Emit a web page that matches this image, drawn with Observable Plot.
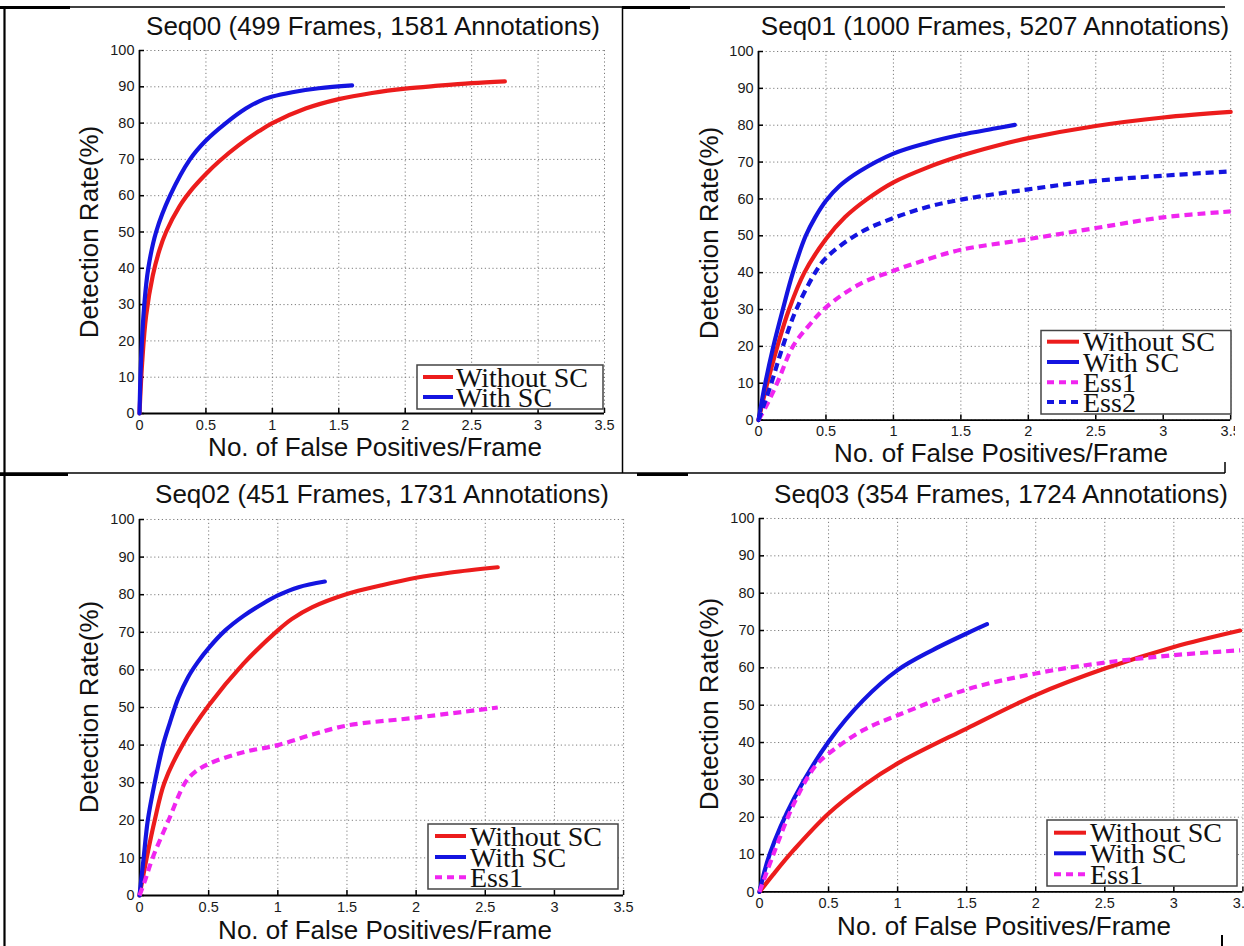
<!DOCTYPE html>
<html><head><meta charset="utf-8">
<script src="https://cdn.jsdelivr.net/npm/d3@7"></script>
<script src="https://cdn.jsdelivr.net/npm/@observablehq/plot@0.6"></script>
<style>
html,body{margin:0;padding:0;background:#fff;}
#page{position:relative;width:1244px;height:946px;overflow:hidden;background:#fff;}
.cell{position:absolute;left:0;top:0;height:946px;overflow:hidden;}
.cell svg{position:absolute;}
#overlay{position:absolute;left:0;top:0;}
</style></head><body><div id="page"></div>
<script>
// ---------- data ----------
const xTicks = [0, 0.5, 1, 1.5, 2, 2.5, 3, 3.5];
const yTicks = [0, 10, 20, 30, 40, 50, 60, 70, 80, 90, 100];
const xLabel = "No. of False Positives/Frame";
const yLabel = "Detection Rate(%)";
const titles = [
  "Seq00 (499 Frames, 1581 Annotations)",
  "Seq01 (1000 Frames, 5207 Annotations)",
  "Seq02 (451 Frames, 1731 Annotations)",
  "Seq03 (354 Frames, 1724 Annotations)"
];
const seriesNames = ["Without SC", "With SC", "Ess1", "Ess2"];

const seq00Without = [[0,0],[0.02,14],[0.05,27],[0.1,38],[0.15,45],[0.2,50],[0.3,57],[0.4,62],[0.5,66],[0.6,69.5],[0.75,74],[0.9,77.8],[1.0,80],[1.25,84],[1.5,86.6],[1.75,88.3],[2.0,89.5],[2.25,90.3],[2.5,91],[2.75,91.5]];
const seq00With = [[0,0],[0.012,15],[0.036,30],[0.066,40],[0.125,50],[0.23,60],[0.38,70],[0.5,75.2],[0.65,80],[0.8,84],[0.9,86],[1.0,87.3],[1.15,88.5],[1.35,89.6],[1.6,90.4]];

const seq01Without = [[0,0],[0.065,10],[0.14,20],[0.226,30],[0.34,40],[0.5,49.1],[0.64,55],[0.8,59.8],[1.0,64.5],[1.25,68.5],[1.5,71.7],[1.75,74.3],[2.0,76.5],[2.5,79.8],[3.0,82.1],[3.5,83.6]];
const seq01With = [[0,0],[0.05,10],[0.11,20],[0.18,30],[0.255,40],[0.35,50],[0.42,55],[0.5,59.5],[0.6,63.5],[0.75,67.5],[1.0,72.3],[1.25,75.2],[1.5,77.4],[1.75,79.1],[1.9,80.1]];
const seq01Ess1 = [[0,0],[0.06,4],[0.138,10],[0.255,20],[0.37,25.5],[0.5,30.6],[0.75,36.9],[1.0,40.5],[1.25,43.6],[1.5,46.2],[2.0,49.1],[2.5,52.1],[3.0,55],[3.5,56.6]];
const seq01Ess2 = [[0,0],[0.095,10],[0.18,20],[0.28,30],[0.42,40],[0.5,44],[0.75,50.8],[1.0,54.8],[1.25,57.8],[1.5,59.8],[2.0,62.6],[2.5,64.9],[3.0,66.3],[3.5,67.5]];

const seq02Without = [[0,0],[0.052,10],[0.11,20],[0.18,30],[0.31,40],[0.5,50.5],[0.75,61.6],[1.0,70.5],[1.1,73.5],[1.25,76.7],[1.5,80.2],[1.75,82.5],[2.0,84.5],[2.25,85.9],[2.59,87.3]];
const seq02With = [[0,0],[0.03,10],[0.06,20],[0.11,30],[0.17,40],[0.22,46],[0.28,52.5],[0.35,58],[0.42,62],[0.5,65.8],[0.62,70.5],[0.75,74.3],[0.9,77.8],[1.0,79.8],[1.15,82],[1.34,83.5]];
const seq02Ess1 = [[0,0],[0.04,4],[0.095,10],[0.21,20],[0.33,30],[0.4,32.8],[0.5,35],[0.75,38.1],[1.0,40],[1.25,42.8],[1.5,45.2],[2.0,47.3],[2.59,50]];

const seq03Without = [[0,0],[0.1,4.7],[0.25,11.3],[0.5,21],[0.75,28.4],[1.0,34.4],[1.5,43.75],[2.0,52.7],[2.5,59.8],[3.0,65.6],[3.48,70]];
const seq03With = [[0,0],[0.073,10],[0.25,25],[0.5,40.2],[0.75,51.3],[1.0,59.4],[1.25,64.7],[1.5,69.2],[1.647,71.7]];
const seq03Ess1 = [[0,0],[0.1,10],[0.25,23.7],[0.4,33.5],[0.5,37],[0.75,43.3],[1.0,47.3],[1.5,54.2],[2.0,58.5],[2.5,61.4],[3.0,63.4],[3.48,64.7]];

// ---------- styles ----------
const RED = "#ec1c1c", BLUE = "#1414e0", MAGENTA = "#f025f0";
const styleOf = {
  "Without SC": {color: RED, dash: null},
  "With SC": {color: BLUE, dash: null},
  "Ess1": {color: MAGENTA, dash: "8,5"},
  "Ess2": {color: BLUE, dash: "8,5"}
};

const panels = [
  {title: titles[0], series: [["Without SC", seq00Without], ["With SC", seq00With]],
   frame: {x0: 138.5, x1: 603.5, yT: 50, yB: 413}, clipR: 1244,
   titleAt: [373, 35], xLabAt: [375, 456], yLabAt: [98, 232],
   legend: {box: [417, 365, 603, 409], rows: [377, 397], sw: [423, 453], tx: 456}},
  {title: titles[1], series: [["Without SC", seq01Without], ["With SC", seq01With], ["Ess1", seq01Ess1], ["Ess2", seq01Ess2]],
   frame: {x0: 757.8, x1: 1230, yT: 50.7, yB: 419.3}, clipR: 1235,
   titleAt: [995, 35], xLabAt: [1001, 462], yLabAt: [718, 233],
   legend: {box: [1041, 330.5, 1231, 414], rows: [341.7, 362, 382.3, 402], sw: [1047, 1079], tx: 1083}},
  {title: titles[2], series: [["Without SC", seq02Without], ["With SC", seq02With], ["Ess1", seq02Ess1]],
   frame: {x0: 139.4, x1: 623.5, yT: 519, yB: 895}, clipR: 1244,
   titleAt: [382, 503], xLabAt: [385, 939], yLabAt: [98, 707],
   legend: {box: [428, 824, 618, 889], rows: [836, 857, 877.3], sw: [435, 466], tx: 470}},
  {title: titles[3], series: [["Without SC", seq03Without], ["With SC", seq03With], ["Ess1", seq03Ess1]],
   frame: {x0: 758.6, x1: 1242, yT: 518.3, yB: 891.7}, clipR: 1244,
   titleAt: [1001, 503], xLabAt: [1004, 935], yLabAt: [717.5, 704],
   legend: {box: [1047, 820, 1237, 886], rows: [832.7, 853.3, 874.3], sw: [1054, 1086], tx: 1090}}
];

const page = document.getElementById("page");
const SANS = "'Liberation Sans', Arial, Helvetica, sans-serif";
const SERIF = "'Liberation Serif', 'Times New Roman', serif";

const ml = 70, mr = 24, mt = 16, mb = 36;
for (const p of panels) {
  const f = p.frame;
  const innerW = f.x1 - f.x0, innerH = f.yB - f.yT;
  const W = ml + innerW + mr, H = mt + innerH + mb;
  const grid = {stroke: "#7c7c7c", strokeOpacity: 1, strokeWidth: 1, strokeDasharray: "1.2,2.6"};
  const marks = [
    Plot.gridX(xTicks, grid),
    Plot.gridY(yTicks, grid),
    Plot.ruleX([0], {stroke: "#000", strokeWidth: 1.8}),
    Plot.ruleY([0], {stroke: "#000", strokeWidth: 1.8}),
    Plot.tickX(xTicks, {x: d => d, insetTop: innerH - 5, stroke: "#000", strokeWidth: 1.5}),
    Plot.tickY(yTicks, {y: d => d, insetRight: innerW - 5, stroke: "#000", strokeWidth: 1.5}),
    Plot.axisX(xTicks, {tickSize: 0, tickPadding: 6, fontSize: 14.5, fill: "#1a1a1a", tickFormat: d => String(d), label: null}),
    Plot.axisY(yTicks, {tickSize: 0, tickPadding: 5, fontSize: 14.5, fill: "#1a1a1a", tickFormat: d => String(d), label: null})
  ];
  for (const [name, data] of p.series) {
    const s = styleOf[name];
    marks.push(Plot.line(data, {x: d => d[0], y: d => d[1], stroke: s.color, strokeWidth: 4.2,
      strokeDasharray: s.dash, strokeLinecap: s.dash ? "butt" : "round", curve: "catmull-rom"}));
  }
  const chart = Plot.plot({
    width: W, height: H, marginLeft: ml, marginRight: mr, marginTop: mt, marginBottom: mb,
    x: {domain: [0, 3.5]}, y: {domain: [0, 100]},
    style: {fontFamily: SANS, background: "transparent", overflow: "visible"},
    marks
  });
  const cell = document.createElement("div");
  cell.className = "cell";
  cell.style.width = p.clipR + "px";
  chart.style.left = (f.x0 - ml) + "px";
  chart.style.top = (f.yT - mt) + "px";
  cell.appendChild(chart);
  page.appendChild(cell);
}

// ---------- overlay: titles, axis labels, legends, table borders ----------
const svg = d3.select(page).append("svg").attr("id", "overlay")
  .attr("width", 1244).attr("height", 946);

for (const p of panels) {
  svg.append("text").attr("x", p.titleAt[0]).attr("y", p.titleAt[1])
    .attr("text-anchor", "middle").attr("font-family", SANS).attr("font-size", 26).attr("fill", "#111")
    .text(p.title);
  svg.append("text").attr("x", p.xLabAt[0]).attr("y", p.xLabAt[1])
    .attr("text-anchor", "middle").attr("font-family", SANS).attr("font-size", 26).attr("fill", "#111")
    .text(xLabel);
  svg.append("text").attr("transform", `translate(${p.yLabAt[0]},${p.yLabAt[1]}) rotate(-90)`)
    .attr("text-anchor", "middle").attr("font-family", SANS).attr("font-size", 26).attr("fill", "#111")
    .text(yLabel);
  const L = p.legend;
  svg.append("rect").attr("x", L.box[0]).attr("y", L.box[1])
    .attr("width", L.box[2] - L.box[0]).attr("height", L.box[3] - L.box[1])
    .attr("fill", "#fff").attr("stroke", "#444").attr("stroke-width", 1.5);
  p.series.forEach(([name], i) => {
    const s = styleOf[name];
    svg.append("line").attr("x1", L.sw[0]).attr("x2", L.sw[1]).attr("y1", L.rows[i]).attr("y2", L.rows[i])
      .attr("stroke", s.color).attr("stroke-width", 4).attr("stroke-dasharray", s.dash ? "7,5" : null);
    svg.append("text").attr("x", L.tx).attr("y", L.rows[i] + 9.5)
      .attr("font-family", SERIF).attr("font-size", 28).attr("fill", "#111").text(name);
  });
}

// table cell borders
const borders = [
  [0, 7, 1225, 7, 1.3], [0, 7.5, 70, 7.5, 3], [622, 7.5, 690, 7.5, 3],
  [4.5, 7, 4.5, 946, 2.2], [622.5, 7, 622.5, 473, 1.5],
  [0, 473, 1225, 473, 1.3], [0, 474.5, 68, 474.5, 3], [637, 474.5, 688, 474.5, 3],
  [1225, 462, 1225, 473, 1.5], [1222, 935, 1222, 946, 2]
];
for (const [x1, y1, x2, y2, w] of borders) {
  svg.append("line").attr("x1", x1).attr("y1", y1).attr("x2", x2).attr("y2", y2)
    .attr("stroke", "#000").attr("stroke-width", w);
}
</script></body></html>
